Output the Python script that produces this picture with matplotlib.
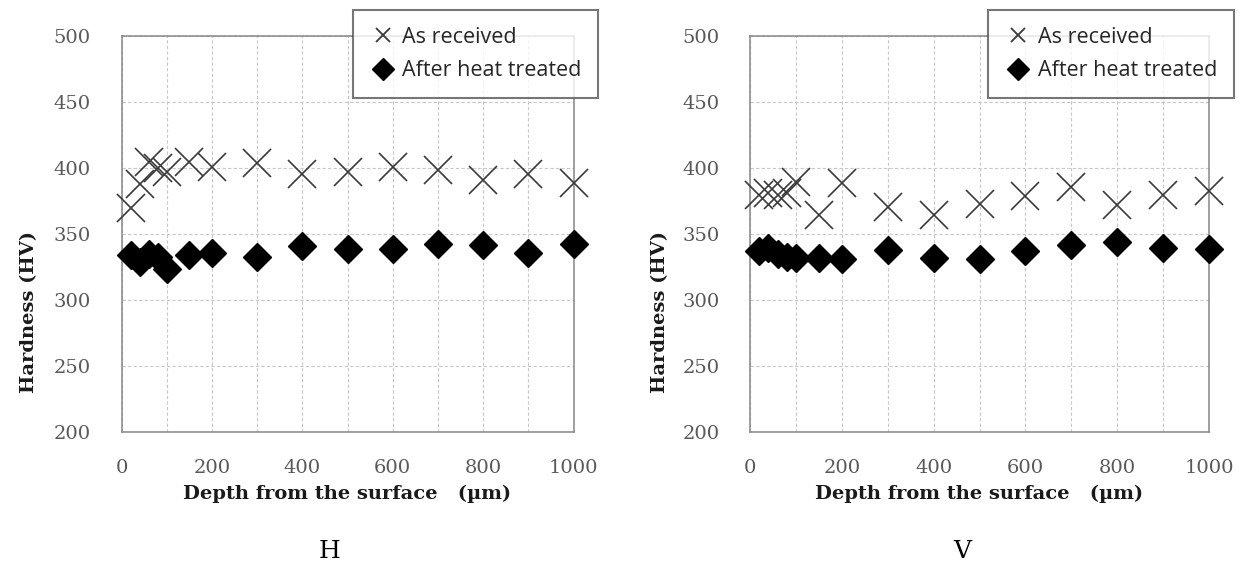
import matplotlib
matplotlib.use("Agg")
import matplotlib.pyplot as plt
from matplotlib.lines import Line2D
from matplotlib.ticker import MultipleLocator

# depth from the surface (um), same for both panels
depth = [20, 40, 60, 80, 100, 150, 200, 300, 400, 500, 600, 700, 800, 900, 1000]

# panel H
h_received = [370, 388, 405, 400, 397, 405, 401, 404, 396, 397, 401, 399, 391, 396, 389]
h_treated = [334, 329, 335, 333, 324, 334, 336, 333, 341, 339, 339, 343, 342, 336, 343]

# panel V
v_received = [380, 381, 380, 381, 390, 365, 389, 371, 365, 373, 379, 386, 372, 380, 383]
v_treated = [337, 340, 335, 333, 332, 332, 331, 338, 332, 331, 337, 342, 344, 340, 339]

panels = [("H", h_received, h_treated), ("V", v_received, v_treated)]
labels = ["As received", "After heat treated"]

W, H = 1253, 568
fig = plt.figure(figsize=(W / 100, H / 100), dpi=100)

# axes boxes in pixels: left, top, right, bottom
boxes = [(121.5, 36.3, 573.5, 432.3), (750, 36.3, 1209, 432.3)]
legend_corner = [(352.7, 10), (988.3, 10)]
caption_x = [330, 962]
ylabel_x = [29, 660]

serif = "DejaVu Serif"
tick_grey = "#595959"
spine_grey = "#868686"

for i, (name, received, treated) in enumerate(panels):
    l, t, r, b = boxes[i]
    ax = fig.add_axes([l / W, 1 - b / H, (r - l) / W, (b - t) / H])

    ax.plot(depth, received, linestyle="none", marker="x", ms=19.5, mew=1.2,
            color="#3a3a3a", clip_on=False, zorder=3)
    ax.plot(depth, treated, linestyle="none", marker="D", ms=14,
            color="black", clip_on=False, zorder=3)

    ax.set_xlim(0, 1000)
    ax.set_ylim(200, 500)
    ax.xaxis.set_major_locator(MultipleLocator(200))
    ax.xaxis.set_minor_locator(MultipleLocator(100))
    ax.yaxis.set_major_locator(MultipleLocator(50))
    ax.grid(True, which="both", linestyle=(0, (3, 2)), color="#c8c8c8", linewidth=0.8)
    ax.set_axisbelow(True)

    ax.tick_params(which="both", length=0)
    ax.tick_params(axis="y", pad=22, labelsize=14, labelcolor=tick_grey)
    ax.tick_params(axis="x", pad=19, labelsize=14, labelcolor=tick_grey)
    for lab in ax.get_xticklabels() + ax.get_yticklabels():
        lab.set_family(serif)

    for sp in ax.spines.values():
        sp.set_color(spine_grey)
        sp.set_linewidth(1.1)

    ax.set_xlabel("Depth from the surface   (\u00b5m)", family=serif,
                  fontweight="bold", fontsize=14, color="#1a1a1a", labelpad=6)

    fig.text(ylabel_x[i] / W, 1 - 312 / H, "Hardness (HV)", rotation=90,
             ha="center", va="center", family=serif, fontweight="bold",
             fontsize=14, color="#1a1a1a")

    fig.text(caption_x[i] / W, 1 - 551 / H, name, ha="center", va="center",
             family=serif, fontsize=18, color="black")

    handles = [
        Line2D([], [], linestyle="none", marker="x", ms=9.5, mew=1.3, color="#3a3a3a"),
        Line2D([], [], linestyle="none", marker="D", ms=11, color="black"),
    ]
    lx, ly = legend_corner[i]
    leg = fig.legend(handles, labels, loc="upper left",
                     bbox_to_anchor=(lx / W, 1 - ly / H), bbox_transform=fig.transFigure,
                     frameon=True, fancybox=False, borderaxespad=0, borderpad=0.78,
                     handlelength=1.24, handletextpad=0.28, labelspacing=0.57,
                     prop={"family": "Open Sans", "size": 15.5})
    leg.get_frame().set_edgecolor("#555555")
    leg.get_frame().set_linewidth(1.5)
    for txt in leg.get_texts():
        txt.set_color("#262626")

fig.savefig("out.png", dpi=100, facecolor="white")
